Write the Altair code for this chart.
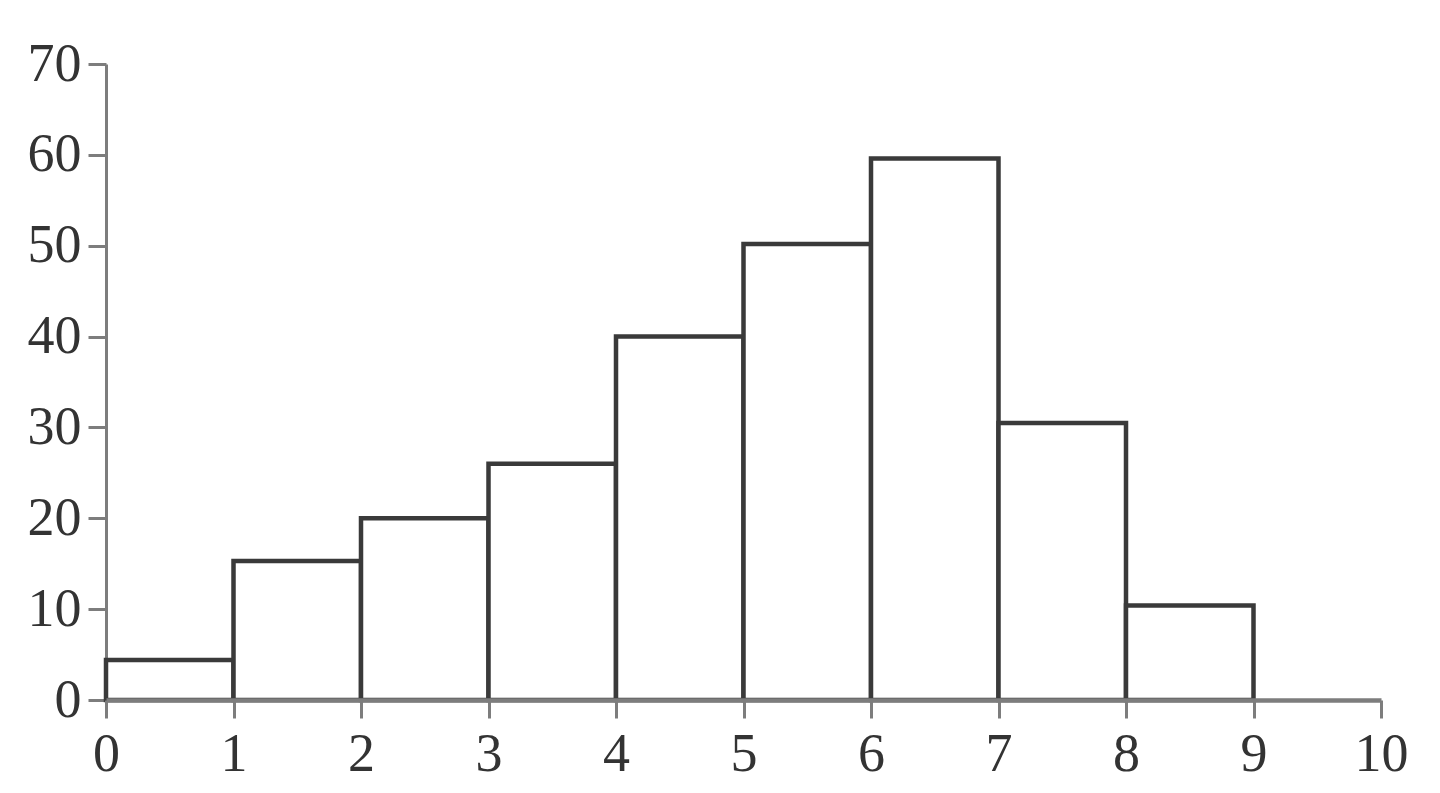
import altair as alt
import pandas as pd

bin_start = [0, 1, 2, 3, 4, 5, 6, 7, 8]
bin_end = [1, 2, 3, 4, 5, 6, 7, 8, 9]
counts = [4.4, 15.3, 20, 26, 40, 50.2, 59.6, 30.5, 10.4]

x_ticks = list(range(0, 11))
y_ticks = list(range(0, 71, 10))

df = pd.DataFrame({"start": bin_start, "end": bin_end, "count": counts})

font = "Liberation Serif"

chart = alt.Chart(df).mark_rect(
    fill="white", stroke="#3a3a3a", strokeWidth=4.5
).encode(
    x=alt.X("start:Q", scale=alt.Scale(domain=[0, 10], nice=False, zero=False),
            axis=alt.Axis(values=x_ticks, title=None, grid=False, format="d",
                          domainColor="#7d7d7d", domainWidth=4.5,
                          tickColor="#7d7d7d", tickWidth=3, tickSize=18,
                          labelFont=font, labelFontSize=54, labelColor="#333333",
                          labelPadding=9, labelFlush=False, zindex=1)),
    x2="end:Q",
    y=alt.Y("count:Q", scale=alt.Scale(domain=[0, 70], nice=False),
            axis=alt.Axis(values=y_ticks, title=None, grid=False, format="d",
                          domainColor="#7d7d7d", domainWidth=3,
                          tickColor="#7d7d7d", tickWidth=3, tickSize=18,
                          labelFont=font, labelFontSize=54, labelColor="#333333",
                          labelPadding=7)),
    y2=alt.datum(0),
).properties(
    width=1275,
    height=636,
    autosize=alt.AutoSizeParams(type="none"),
    padding={"left": 98, "top": 56, "right": 50, "bottom": 92},
).configure_view(stroke=None)

chart.save("out.html", embed_options={"renderer": "svg", "actions": False})
